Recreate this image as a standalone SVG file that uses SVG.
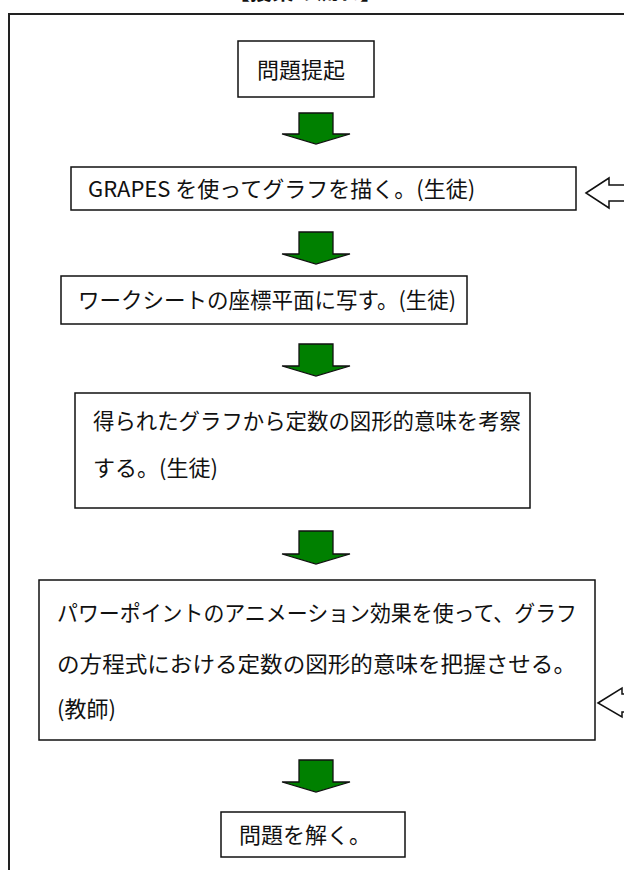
<svg xmlns="http://www.w3.org/2000/svg" width="624" height="870" viewBox="0 0 624 870">
<style>
.t{font-family:"Noto Sans CJK JP","Liberation Sans",sans-serif;font-size:22px;fill:#111}
.box{fill:#fff;stroke:#111;stroke-width:1.5}
.g{fill:#008000;stroke:#111;stroke-width:1.3;stroke-linejoin:miter}
.h{fill:#fff;stroke:#111;stroke-width:1.5}
</style>
<rect width="624" height="870" fill="#fff"/>
<g id="title"><text class="t" x="305" y="-1" text-anchor="middle" font-size="23" font-weight="bold">【授業の流れ】</text></g>
<g id="frame"><rect x="9" y="14" width="700" height="900" fill="none" stroke="#222" stroke-width="2"/></g>
<g id="n1"><rect class="box" x="238" y="41" width="136" height="56"/><text class="t" x="257" y="78" font-size="23">問題提起</text></g>
<g id="n2"><rect class="box" x="71" y="167" width="505" height="43"/><text class="t" x="88" y="197">GRAPES を使ってグラフを描く。(生徒)</text></g>
<g id="n3"><rect class="box" x="61" y="276" width="406" height="48"/><text class="t" x="78" y="308" textLength="378" lengthAdjust="spacingAndGlyphs">ワークシートの座標平面に写す。(生徒)</text></g>
<g id="n4"><rect class="box" x="75" y="393" width="455" height="115"/><text class="t" x="93" y="429" textLength="428" lengthAdjust="spacingAndGlyphs">得られたグラフから定数の図形的意味を考察</text><text class="t" x="93" y="476">する。(生徒)</text></g>
<g id="n5"><rect class="box" x="39" y="580" width="556" height="160"/><text class="t" x="57" y="621" textLength="520" lengthAdjust="spacingAndGlyphs">パワーポイントのアニメーション効果を使って、グラフ</text><text class="t" x="57" y="672" textLength="519" lengthAdjust="spacingAndGlyphs">の方程式における定数の図形的意味を把握させる。</text><text class="t" x="57" y="717">(教師)</text></g>
<g id="n6"><rect class="box" x="221" y="812" width="184" height="45"/><text class="t" x="239" y="843">問題を解く。</text></g>
<g id="connectors">
<polygon class="g" points="299,113 333,113 333,134 350,134 316,144 282,134 299,134"/>
<polygon class="g" points="299,232 333,232 333,254 350,254 316,264 282,254 299,254"/>
<polygon class="g" points="299,344 333,344 333,366 350,366 316,376 282,366 299,366"/>
<polygon class="g" points="299,531 333,531 333,554 350,554 316,564 282,554 299,554"/>
<polygon class="g" points="299,760 333,760 333,782 350,782 316,792 282,782 299,782"/>
<polygon class="h" points="586,193 609,178 609,185 640,185 640,201 609,201 609,208"/>
<polygon class="h" points="598,703 622,688 622,694 650,694 650,712 622,712 622,717"/>
</g>
</svg>
